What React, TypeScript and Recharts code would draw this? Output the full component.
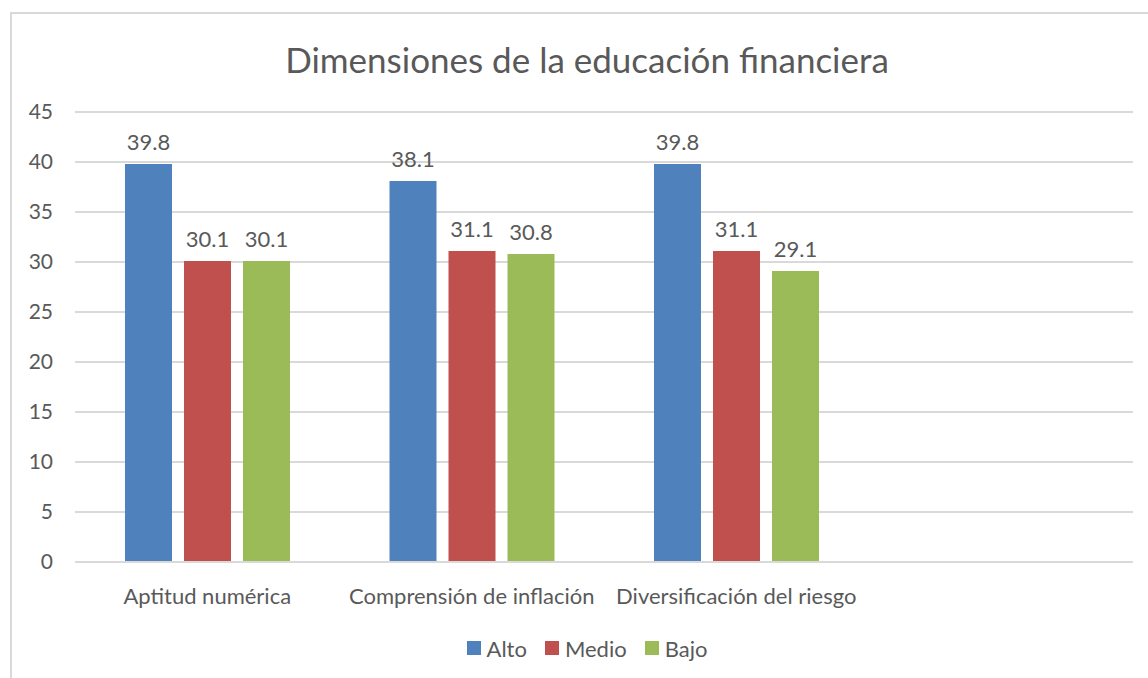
import {
  BarChart,
  Bar,
  XAxis,
  YAxis,
  CartesianGrid,
  Legend,
  LabelList,
} from 'recharts';

const CATEGORIES = [
  'Aptitud numérica',
  'Comprensión de inflación',
  'Diversificación del riesgo',
  '',
];
const ALTO = [39.8, 38.1, 39.8, null];
const MEDIO = [30.1, 31.1, 31.1, null];
const BAJO = [30.1, 30.8, 29.1, null];
const Y_TICKS = [0, 5, 10, 15, 20, 25, 30, 35, 40, 45];

const SERIES = [
  { key: 'Alto', color: '#4F81BD' },
  { key: 'Medio', color: '#C0504D' },
  { key: 'Bajo', color: '#9BBB59' },
];

const data = CATEGORIES.map((name, i) => ({
  name,
  Alto: ALTO[i],
  Medio: MEDIO[i],
  Bajo: BAJO[i],
}));

const FONT = 'Lato, "Open Sans", sans-serif';
const TEXT = '#595959';

function renderLegend() {
  return (
    <div
      style={{
        height: 30,
        display: 'flex',
        justifyContent: 'center',
        alignItems: 'center',
        fontFamily: FONT,
        fontSize: 22,
        color: TEXT,
      }}
    >
      {SERIES.map((s) => (
        <span
          key={s.key}
          style={{ display: 'flex', alignItems: 'center', margin: '0 9px' }}
        >
          <span
            style={{
              display: 'inline-block',
              width: 14,
              height: 14,
              background: s.color,
              marginRight: 6,
            }}
          />
          {s.key}
        </span>
      ))}
    </div>
  );
}

export default function App() {
  return (
    <div
      style={{
        position: 'absolute',
        left: 0,
        top: 0,
        width: 1148,
        height: 678,
        background: '#fff',
        overflow: 'hidden',
        fontFamily: FONT,
      }}
    >
      <div
        style={{
          position: 'absolute',
          left: 10,
          top: 12,
          width: 1200,
          height: 700,
          border: '2px solid #d9d9d9',
        }}
      />
      <div
        style={{
          position: 'absolute',
          top: 38,
          left: 0,
          width: 1174,
          textAlign: 'center',
          fontSize: 35,
          color: TEXT,
        }}
      >
        Dimensiones de la educación financiera
      </div>
      <div style={{ position: 'absolute', left: 0, top: 0 }}>
        <BarChart
          width={1148}
          height={678}
          data={data}
          margin={{ top: 112, right: 15, left: 15, bottom: 46 }}
          barGap={12}
          barSize={47}
        >
          <CartesianGrid vertical={false} stroke="#d9d9d9" strokeWidth={2} />
          <YAxis
            width={60}
            domain={[0, 45]}
            ticks={Y_TICKS}
            axisLine={false}
            tickLine={false}
            tickSize={0}
            tickMargin={22}
            tick={{ fill: TEXT, fontSize: 21, fontFamily: FONT }}
          />
          <XAxis
            dataKey="name"
            height={40}
            axisLine={{ stroke: '#d9d9d9', strokeWidth: 2 }}
            tickLine={false}
            tickSize={0}
            tickMargin={26}
            interval={0}
            tick={{ fill: TEXT, fontSize: 22, fontFamily: FONT }}
          />
          <Legend
            verticalAlign="bottom"
            content={renderLegend}
            wrapperStyle={{ top: 633, bottom: 'auto', left: 0, width: 1174 }}
          />
          {SERIES.map((s) => (
            <Bar
              key={s.key}
              dataKey={s.key}
              name={s.key}
              fill={s.color}
              isAnimationActive={false}
            >
              <LabelList
                dataKey={s.key}
                position="top"
                offset={14}
                fill={TEXT}
                fontSize={22}
                fontFamily={FONT}
              />
            </Bar>
          ))}
        </BarChart>
      </div>
    </div>
  );
}
